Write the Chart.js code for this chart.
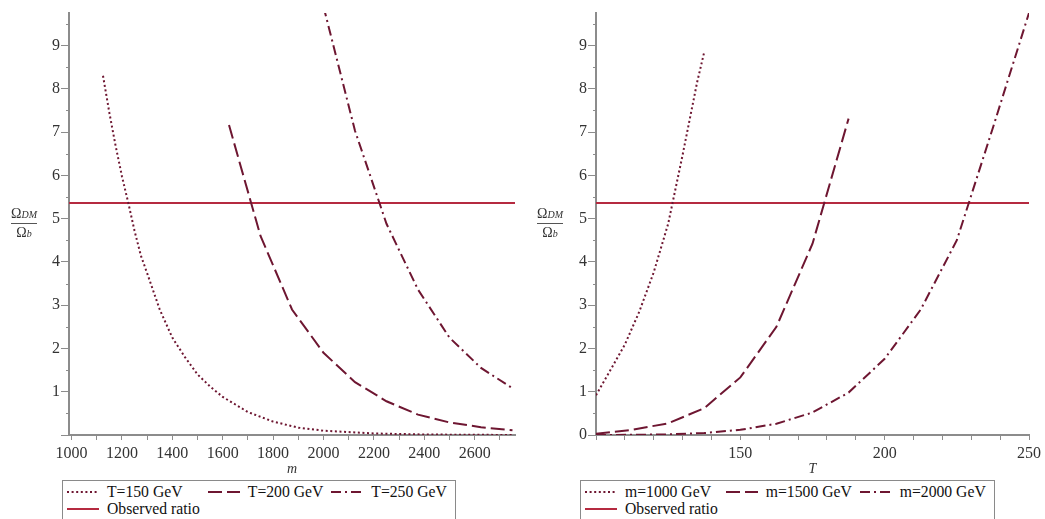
<!DOCTYPE html>
<html>
<head>
<meta charset="utf-8">
<script src="https://cdn.jsdelivr.net/npm/chart.js@4.4.1/dist/chart.umd.min.js"></script>
<style>
  html, body { margin: 0; padding: 0; background: #fff; overflow: hidden; }
  body { width: 1045px; height: 519px; position: relative; font-family: "Liberation Serif", "Times New Roman", serif; }
  .panel { position: absolute; top: 0; height: 478px; }
  .frac { position: absolute; display: flex; flex-direction: column; align-items: center; color: #333; }
  .frac .num, .frac .den { font-size: 14px; line-height: 12px; white-space: nowrap; }
  .frac i { font-size: 10px; }
  .frac .bar { width: 100%; border-top: 1px solid #555; margin: 2px 0 3px; }
  .legend { position: absolute; top: 480px; height: 50px; box-sizing: border-box; border: 1px solid #8a8a8a;
            display: grid; grid-template-columns: auto auto auto; grid-auto-rows: 16.5px; justify-content: start; column-gap: 8px;
            padding: 3px 4px 0 4px; font-size: 15.7px; line-height: 16px; color: #111; }
  .item { display: flex; align-items: center; height: 16.5px; white-space: nowrap; }
  .item svg { margin-right: 8px; flex: none; }
</style>
</head>
<body>
<div class="panel" style="left:0;width:520px"><canvas id="left"></canvas></div>
<div class="panel" style="left:520px;width:525px"><canvas id="right"></canvas></div>

<div class="frac" style="left:11px;top:208px"><span class="num">Ω<i>DM</i></span><span class="bar"></span><span class="den">Ω<i>b</i></span></div>
<div class="frac" style="left:537px;top:208px"><span class="num">Ω<i>DM</i></span><span class="bar"></span><span class="den">Ω<i>b</i></span></div>

<div class="legend" id="legendLeft" style="left:62px;width:394px"></div>
<div class="legend" id="legendRight" style="left:580px;width:415px"></div>

<script>
// ---- data ----
const observedRatio = 5.36;
const yMax = 9.75;

// left panel: ratio vs m
const massRange = [990, 2760];
const massT150 = [1125, 1150, 1175, 1200, 1225, 1250, 1275, 1300, 1350, 1400, 1450, 1500, 1550, 1600, 1700, 1800, 1900, 2000, 2200, 2400, 2600, 2750];
const ratioT150 = [8.3, 7.45, 6.68, 5.98, 5.37, 4.72, 4.15, 3.74, 2.9, 2.25, 1.8, 1.4, 1.12, 0.88, 0.53, 0.31, 0.17, 0.1, 0.035, 0.012, 0.004, 0.0015];
const massT200 = [1625, 1750, 1875, 2000, 2125, 2250, 2375, 2500, 2625, 2750];
const ratioT200 = [7.16, 4.6, 2.9, 1.9, 1.22, 0.78, 0.47, 0.29, 0.18, 0.11];
const massT250 = [2000, 2125, 2250, 2375, 2500, 2625, 2750];
const ratioT250 = [9.9, 7.03, 4.88, 3.36, 2.25, 1.55, 1.08];

// right panel: ratio vs T
const tempRange = [100, 250];
const tempM1000 = [100, 105, 110, 115, 120, 125, 130, 135, 137.5];
const ratioM1000 = [0.92, 1.5, 2.09, 2.85, 3.76, 4.88, 6.47, 8.14, 8.85];
const tempM1500 = [100, 112.5, 125, 137.5, 150, 162.5, 175, 187.5];
const ratioM1500 = [0.03, 0.12, 0.27, 0.62, 1.33, 2.5, 4.42, 7.31];
const tempM2000 = [100, 112.5, 125, 137.5, 150, 162.5, 175, 187.5, 200, 212.5, 225, 237.5, 250];
const ratioM2000 = [0, 0.004, 0.015, 0.045, 0.12, 0.26, 0.52, 0.98, 1.76, 2.9, 4.5, 7.1, 9.75];

const leftLabels = ['T=150 GeV', 'T=200 GeV', 'T=250 GeV', 'Observed ratio'];
const rightLabels = ['m=1000 GeV', 'm=1500 GeV', 'm=2000 GeV', 'Observed ratio'];
const massTickLabels = [1000, 1200, 1400, 1600, 1800, 2000, 2200, 2400, 2600];
const tempTickLabels = [150, 200, 250];
const leftYTickLabels = [1, 2, 3, 4, 5, 6, 7, 8, 9];
const rightYTickLabels = [0, 1, 2, 3, 4, 5, 6, 7, 8, 9];

// ---- styles ----
const curveColor = '#6e1631';
const ratioColor = '#b52a40';
const axisGrey = '#8c8c8c';
const dotted = [2, 2.6];
const dashed = [14, 5];
const dashDot = [10, 4, 2, 4];

const pts = (xs, ys) => xs.map((x, i) => ({ x, y: ys[i] }));

function curve(label, xs, ys, dash) {
  return { label, data: pts(xs, ys), borderColor: curveColor, borderWidth: 2, borderDash: dash,
           pointRadius: 0, fill: false, tension: 0 };
}
function ratioLine(range) {
  return { label: 'Observed ratio', data: pts(range, [observedRatio, observedRatio]), borderColor: ratioColor,
           borderWidth: 2, borderDash: [], pointRadius: 0, fill: false };
}

// short ticks at the half units of the y axis
const minorTicks = {
  id: 'minorTicks',
  afterDraw(chart) {
    const { ctx, chartArea } = chart;
    const y = chart.scales.y;
    ctx.save();
    ctx.strokeStyle = axisGrey;
    ctx.lineWidth = 1;
    for (let v = 0.5; v < y.max; v += 1) {
      const py = Math.round(y.getPixelForValue(v)) + 0.5;
      ctx.beginPath();
      ctx.moveTo(chartArea.left - 3, py);
      ctx.lineTo(chartArea.left, py);
      ctx.stroke();
    }
    ctx.restore();
  }
};

function makeChart(id, datasets, o) {
  const font = { family: '"Liberation Serif", "Times New Roman", serif', size: 16 };
  return new Chart(document.getElementById(id), {
    type: 'line',
    data: { datasets },
    options: {
      responsive: true,
      maintainAspectRatio: false,
      animation: false,
      events: [],
      layout: { padding: { top: 13, right: o.padRight, left: 0, bottom: 0 } },
      plugins: { legend: { display: false }, tooltip: { enabled: false } },
      scales: {
        x: {
          type: 'linear', min: o.xRange[0], max: o.xRange[1],
          afterFit: s => { s.height = 43; },
          border: { color: axisGrey, width: 2 },
          grid: { drawOnChartArea: false, tickLength: 5, color: axisGrey },
          ticks: {
            stepSize: o.xStep, autoSkip: false, maxRotation: 0, includeBounds: false, padding: 4,
            color: '#333', font,
            callback: v => (o.xLabels.includes(v) ? String(v) : '')
          },
          title: { display: true, text: o.xTitle, color: '#333', padding: { top: 0, bottom: 0 },
                   font: { family: font.family, size: 14, style: 'italic' } }
        },
        y: {
          min: 0, max: yMax,
          afterFit: s => { s.width = o.yWidth; },
          border: { color: axisGrey, width: 2 },
          grid: { drawOnChartArea: false, tickLength: 8, color: axisGrey },
          ticks: {
            stepSize: 1, includeBounds: false, padding: 1, color: '#333', font,
            callback: v => (o.yLabels.includes(v) ? String(v) : '')
          }
        }
      }
    },
    plugins: [minorTicks]
  });
}

function buildLegend(el, chart) {
  chart.data.datasets.forEach(ds => {
    const item = document.createElement('div');
    item.className = 'item';
    const dash = (ds.borderDash || []).join(' ');
    item.innerHTML = '<svg width="32" height="8"><line x1="0" y1="4" x2="32" y2="4" stroke="' + ds.borderColor +
      '" stroke-width="2" stroke-dasharray="' + dash + '"/></svg><span>' + ds.label + '</span>';
    el.appendChild(item);
  });
}

const leftChart = makeChart('left', [
  curve(leftLabels[0], massT150, ratioT150, dotted),
  curve(leftLabels[1], massT200, ratioT200, dashed),
  curve(leftLabels[2], massT250, ratioT250, dashDot),
  ratioLine(massRange)
], { xRange: massRange, xStep: 100, xLabels: massTickLabels, xTitle: 'm', yLabels: leftYTickLabels, yWidth: 69, padRight: 5 });

const rightChart = makeChart('right', [
  curve(rightLabels[0], tempM1000, ratioM1000, dotted),
  curve(rightLabels[1], tempM1500, ratioM1500, dashed),
  curve(rightLabels[2], tempM2000, ratioM2000, dashDot),
  ratioLine(tempRange)
], { xRange: tempRange, xStep: 10, xLabels: tempTickLabels, xTitle: 'T', yLabels: rightYTickLabels, yWidth: 76, padRight: 14 });

buildLegend(document.getElementById('legendLeft'), leftChart);
buildLegend(document.getElementById('legendRight'), rightChart);
</script>
</body>
</html>
